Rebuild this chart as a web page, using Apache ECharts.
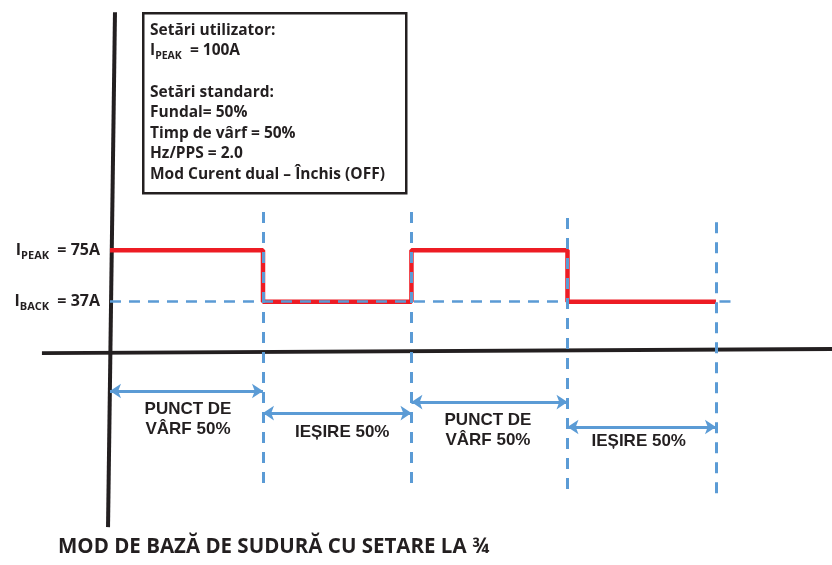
<!DOCTYPE html>
<html>
<head>
<meta charset="utf-8">
<script src="https://cdn.jsdelivr.net/npm/echarts@6/dist/echarts.min.js"></script>
<style>
  html, body { margin: 0; padding: 0; background: #fff; }
  #chart { width: 832px; height: 565px; }
</style>
</head>
<body>
<div id="chart"></div>
<script>
// timing of the pulse (half periods)
const edges = [0, 1.01, 1.99, 3.02, 4.0];
const levels = [75, 37, 75, 37];
const peakA = 75;
const backA = 37;
const levelNames = ['PEAK', 'BACK'];
const segmentNames = ['PUNCT DE\nVÂRF 50%', 'IEȘIRE 50%', 'PUNCT DE\nVÂRF 50%', 'IEȘIRE 50%'];
const boxLines = [
  'Setări utilizator:',
  '{i|I}{s|PEAK}{t|  = 100A}',
  '',
  'Setări standard:',
  'Fundal= 50%',
  'Timp de vârf = 50%',
  'Hz/PPS = 2.0',
  'Mod Curent dual – Închis (OFF)'
];
const title = 'MOD DE BAZĂ DE SUDURĂ CU SETARE LA ¾';

const BLACK = '#231f20';
const RED = '#ed1c24';
const BLUE = '#5b9bd5';

// layout (units of the hidden axes / pixels)
const arrowY = [-29, -45.3, -37.2, -55.6];
const labelOffset = [[1.5, 8], [5, 9.5], [-1.5, 8], [-3, 4]];
const dashTop = [103.3, 103.3, 98.8, 95.8];
const dashBottom = [-103.7, -103.7, -107.4, -111.1];

const chart = echarts.init(document.getElementById('chart'));

// red waveform
const wave = [];
levels.forEach((v, i) => {
  wave.push([edges[i], v]);
  wave.push([edges[i + 1], v]);
});

const vDashes = edges.slice(1).map((x, i) => ({coords: [[x, dashTop[i]], [x, dashBottom[i]]]}));
const arrows = segmentNames.map((n, i) => ({coords: [[edges[i], arrowY[i]], [edges[i + 1], arrowY[i]]]}));
const segLabels = segmentNames.map((n, i) => ({
  name: n,
  value: [(edges[i] + edges[i + 1]) / 2, arrowY[i]],
  label: {offset: labelOffset[i]}
}));

const txt = (size) => ({fontFamily: 'Open Sans', fontWeight: 'bold', fontSize: size, color: BLACK});

const option = {
  animation: false,
  grid: {left: 0, right: 0, top: 0, bottom: 0},
  xAxis: {type: 'value', min: -0.726, max: 4.766, show: false},
  yAxis: {type: 'value', min: -157.6, max: 260, show: false},
  series: [
    { // axes
      type: 'lines',
      coordinateSystem: 'cartesian2d',
      z: 1,
      lineStyle: {color: BLACK, width: 4, opacity: 1},
      data: [
        {coords: [[0.033, 251], [-0.013, -129.6]]},
        {coords: [[-0.449, -1], [4.766, 2]]}
      ]
    },
    { // backing level, part under the last red segment
      type: 'lines',
      coordinateSystem: 'cartesian2d',
      z: 2,
      lineStyle: {color: BLUE, width: 2.5, type: [11, 8], opacity: 1},
      data: [{coords: [[edges[3], backA], [4.13, backA]]}]
    },
    {
      type: 'line',
      z: 3,
      showSymbol: false,
      lineStyle: {color: RED, width: 4.5},
      data: wave
    },
    {
      type: 'lines',
      coordinateSystem: 'cartesian2d',
      z: 4,
      lineStyle: {color: BLUE, width: 2.5, type: [11, 8], opacity: 1},
      data: [{coords: [[0, backA], [edges[3], backA]]}]
    },
    { // vertical dashed markers
      type: 'lines',
      coordinateSystem: 'cartesian2d',
      z: 4,
      lineStyle: {color: BLUE, width: 3, type: [11, 9], opacity: 1},
      data: vDashes
    },
    { // double arrows
      type: 'lines',
      coordinateSystem: 'cartesian2d',
      z: 4,
      symbol: ['arrow', 'arrow'],
      symbolSize: 11,
      lineStyle: {color: BLUE, width: 3, opacity: 1},
      data: arrows
    },
    {
      type: 'scatter',
      symbolSize: 0,
      z: 5,
      itemStyle: {opacity: 1},
      label: {
        show: true,
        position: 'inside',
        formatter: p => p.name,
        fontFamily: 'Liberation Sans, Arial, sans-serif',
        fontWeight: 'bold',
        fontSize: 17,
        lineHeight: 20,
        color: BLACK,
        opacity: 1,
        align: 'center',
        verticalAlign: 'top'
      },
      data: segLabels
    },
    {
      type: 'scatter',
      symbolSize: 0,
      z: 5,
      itemStyle: {opacity: 1},
      label: {
        show: true,
        position: 'left',
        distance: 10,
        opacity: 1,
        formatter: p => '{i|I}{s|' + p.name + '}{t|  = ' + p.value[1] + 'A}',
        rich: {
          i: txt(16),
          s: Object.assign(txt(11), {padding: [11, 0, 0, 0]}),
          t: txt(16)
        }
      },
      data: [
        {name: levelNames[0], value: [0, peakA]},
        {name: levelNames[1], value: [0, backA]}
      ]
    }
  ],
  graphic: [
    {
      type: 'rect',
      left: 142, top: 12,
      shape: {width: 263, height: 180},
      style: {fill: '#fff', stroke: BLACK, lineWidth: 2.5},
      z: 10
    },
    {
      type: 'text',
      left: 150, top: 20,
      z: 11,
      style: {
        text: boxLines.join('\n'),
        font: 'bold 15.5px "Open Sans"',
        fill: BLACK,
        lineHeight: 20.6,
        rich: {
          i: {font: 'bold 15.5px "Open Sans"', fill: BLACK, lineHeight: 20.6},
          s: {font: 'bold 10.5px "Open Sans"', fill: BLACK, padding: [10, 0, 0, 0]},
          t: {font: 'bold 15.5px "Open Sans"', fill: BLACK, lineHeight: 20.6}
        }
      }
    },
    {
      type: 'text',
      left: 58, top: 537,
      z: 11,
      style: {text: title, font: 'bold 20.5px "Open Sans"', fill: BLACK}
    }
  ]
};

chart.setOption(option);
</script>
</body>
</html>
